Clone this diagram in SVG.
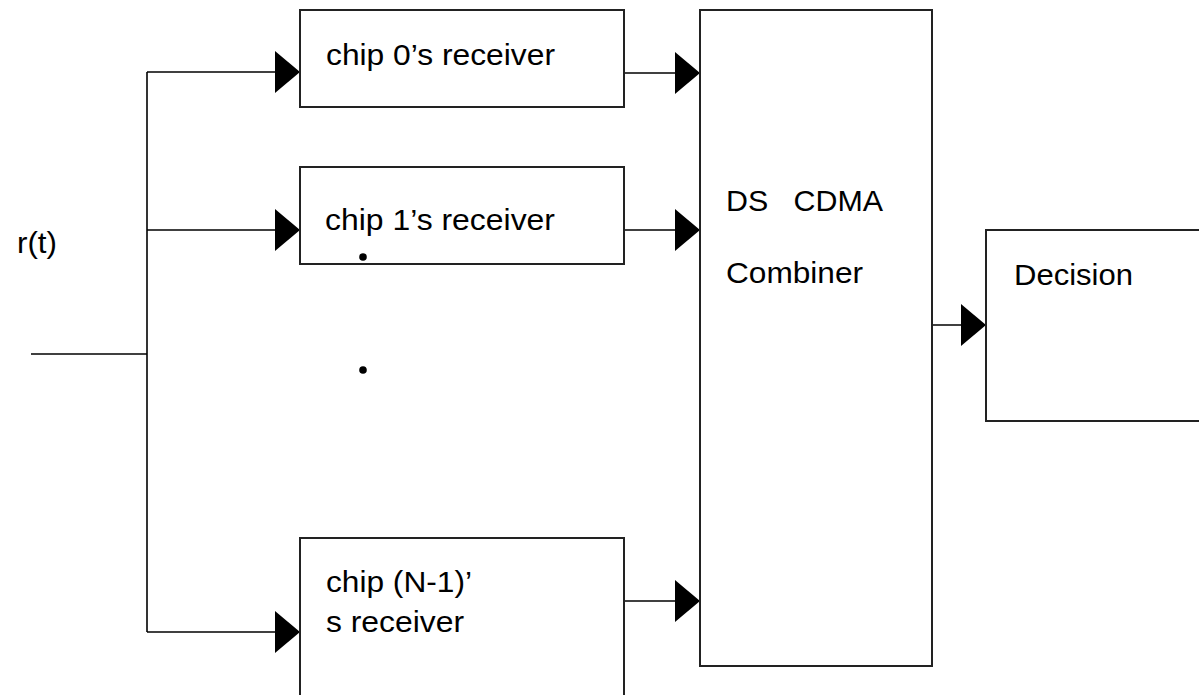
<svg xmlns="http://www.w3.org/2000/svg" width="1199" height="695" viewBox="0 0 1199 695">
  <style>
    .box { fill: #ffffff; stroke: #222222; stroke-width: 2; }
    .wire { fill: none; stroke: #000000; stroke-width: 1.6; }
    .lbl { font-family: "Liberation Sans", Arial, sans-serif; font-size: 30px; fill: #000000; white-space: pre; }
    .dot { fill: #000000; }
  </style>
  <defs>
    <marker id="head" markerUnits="userSpaceOnUse" markerWidth="26" markerHeight="44" refX="25" refY="21" orient="auto">
      <path d="M0,0 L25,21 L0,42 Z" fill="#000000"/>
    </marker>
  </defs>
  <rect width="1199" height="695" fill="#ffffff"/>

  <!-- connectors -->
  <g id="connectors">
    <path class="wire" d="M31,354 H147"/>
    <path class="wire" d="M147,72 V632"/>
    <path class="wire" d="M147,72 H300" marker-end="url(#head)"/>
    <path class="wire" d="M147,230 H300" marker-end="url(#head)"/>
    <path class="wire" d="M147,632 H300" marker-end="url(#head)"/>
    <path class="wire" d="M623,73 H700" marker-end="url(#head)"/>
    <path class="wire" d="M623,230 H700" marker-end="url(#head)"/>
    <path class="wire" d="M623,601 H700" marker-end="url(#head)"/>
    <path class="wire" d="M928,325 H986" marker-end="url(#head)"/>
  </g>

  <!-- input label -->
  <g id="input">
    <text class="lbl" x="17" y="253" textLength="40" lengthAdjust="spacingAndGlyphs">r(t)</text>
  </g>

  <!-- per-chip receivers -->
  <g id="chip0">
    <rect class="box" x="300" y="10" width="324" height="97"/>
    <text class="lbl" x="326" y="65" textLength="229" lengthAdjust="spacingAndGlyphs">chip 0’s receiver</text>
  </g>
  <g id="chip1">
    <rect class="box" x="300" y="167" width="324" height="97"/>
    <text class="lbl" x="325" y="230" textLength="230" lengthAdjust="spacingAndGlyphs">chip 1’s receiver</text>
  </g>
  <g id="ellipsis">
    <circle class="dot" cx="363" cy="257" r="3.8"/>
    <circle class="dot" cx="363" cy="370" r="3.8"/>
  </g>
  <g id="chipN1">
    <rect class="box" x="300" y="538" width="324" height="180"/>
    <text class="lbl" x="326" y="592" textLength="146" lengthAdjust="spacingAndGlyphs">chip (N-1)’</text>
    <text class="lbl" x="326" y="632" textLength="138" lengthAdjust="spacingAndGlyphs">s receiver</text>
  </g>

  <!-- combiner -->
  <g id="combiner">
    <rect class="box" x="700" y="10" width="232" height="656"/>
    <text class="lbl" x="726" y="211" textLength="157" lengthAdjust="spacingAndGlyphs">DS   CDMA</text>
    <text class="lbl" x="726" y="283" textLength="137" lengthAdjust="spacingAndGlyphs">Combiner</text>
  </g>

  <!-- decision -->
  <g id="decision">
    <rect class="box" x="986" y="230" width="240" height="191"/>
    <text class="lbl" x="1014" y="285" textLength="119" lengthAdjust="spacingAndGlyphs">Decision</text>
  </g>
</svg>
